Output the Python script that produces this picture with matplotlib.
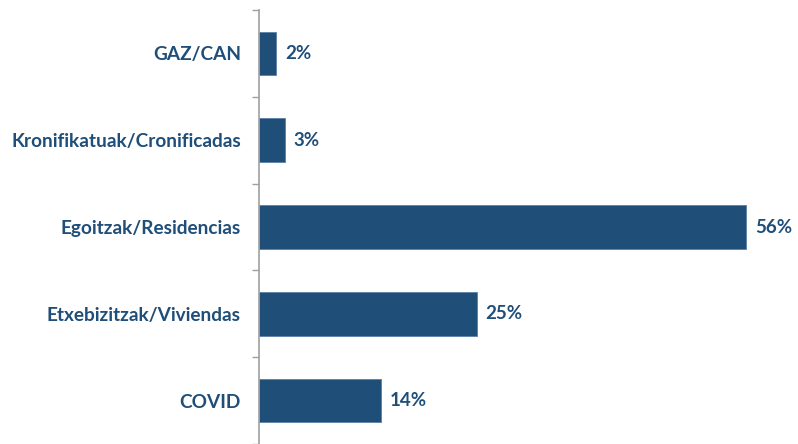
import numpy as np
import matplotlib.pyplot as plt

categories = ['GAZ/CAN', 'Kronifikatuak/Cronificadas', 'Egoitzak/Residencias',
              'Etxebizitzak/Viviendas', 'COVID']
values = [2, 3, 56, 25, 14]

bar_color = '#1F4E79'
text_color = '#1F4E79'

fig = plt.figure(figsize=(7.98, 4.44), dpi=100)
ax = fig.add_axes([259 / 798, 0, 1 - 259 / 798 - 0.01, 434 / 444])

y = np.arange(len(categories))[::-1]
ax.barh(y, values, height=0.5, color=bar_color, edgecolor='#5A7FA6', linewidth=0.6)

for yi, v in zip(y, values):
    ax.text(v + 1, yi, f'{v}%', va='center', ha='left', fontsize=13.5,
            fontweight='bold', color=text_color, family='Lato')

ax.set_ylim(-0.5, len(categories) - 0.5)
ax.set_xlim(0, 61)
ax.set_yticks(y)
ax.set_yticklabels(categories, fontsize=13.7, fontweight='bold', color=text_color, family='Lato')
ax.set_yticks(np.arange(-0.5, len(categories), 1), minor=True)
ax.tick_params(axis='y', which='major', length=0, pad=13)
ax.tick_params(axis='y', which='minor', length=5, color='#A0A0A0', width=1)
ax.set_xticks([])
for s in ['top', 'right', 'bottom']:
    ax.spines[s].set_visible(False)
ax.spines['left'].set_color('#A0A0A0')
ax.spines['left'].set_linewidth(1.2)

fig.savefig('out.png', dpi=100)
